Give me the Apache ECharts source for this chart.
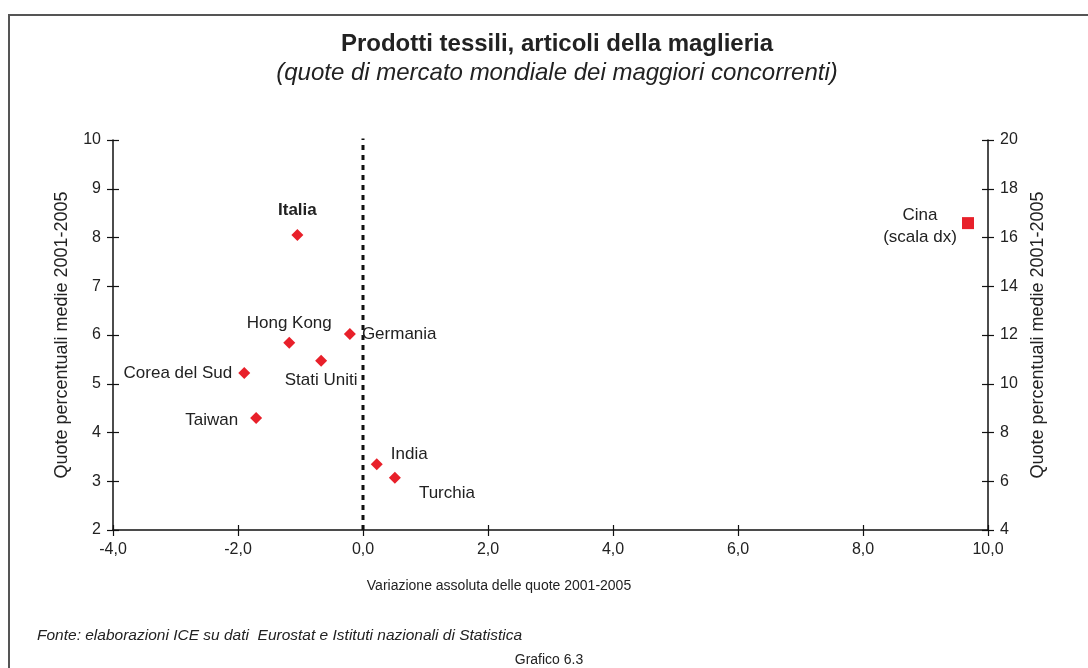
<!DOCTYPE html>
<html>
<head>
<meta charset="utf-8">
<script src="https://cdn.jsdelivr.net/npm/echarts@6/dist/echarts.min.js"></script>
<style>
html,body{margin:0;padding:0;background:#fff;}
#chart{width:1088px;height:668px;}
</style>
</head>
<body>
<div id="chart"></div>
<script>
// ---- data ----
const countries = ['Italia','Hong Kong','Germania','Stati Uniti','Corea del Sud','Taiwan','India','Turchia'];
const variazione = [-1.05,-1.18,-0.21,-0.67,-1.90,-1.71,0.22,0.51];
const quoteMedie = [8.05,5.84,6.02,5.47,5.22,4.30,3.35,3.07];
const cinaName = 'Cina\n(scala dx)';
const cinaVariazione = [9.68];
const cinaQuota = [16.59];
const xTicks = {min:-4, max:10, interval:2};
const yLeftTicks = {min:2, max:10, interval:1};
const yRightTicks = {min:4, max:20, interval:2};
const refLineX = 0;
const refLineTop = 10.14;

// ---- label placement (style) ----
const labelStyle = {
  'Italia': {position:'top', distance:10, fontWeight:'bold'},
  'Hong Kong': {position:'top', distance:5},
  'Germania': {position:'right', distance:6},
  'Stati Uniti': {position:'bottom', distance:5},
  'Corea del Sud': {position:'left', distance:6},
  'Taiwan': {position:'left', distance:12, offset:[0,2]},
  'India': {position:'right', distance:8, offset:[0,-10]},
  'Turchia': {position:'right', distance:8, offset:[10,15]}
};

const font = '"Liberation Sans", Arial, sans-serif';
const txt = '#222';
const fmtX = v => v.toFixed(1).replace('.', ',');
const ptFont = 17;

const mainData = countries.map((n,i) => ({
  name:n, value:[variazione[i], quoteMedie[i]],
  label:Object.assign({show:true, formatter:'{b}', color:txt, fontSize:ptFont, fontFamily:font}, labelStyle[n])
}));
const cinaData = cinaVariazione.map((v,i) => ({
  name:cinaName, value:[v, cinaQuota[i]],
  label:{show:true, formatter:'{b}', position:'left', distance:0, align:'center', offset:[-42,3], color:txt, fontSize:ptFont, fontFamily:font, lineHeight:22}
}));

const chart = echarts.init(document.getElementById('chart'), null, {renderer:'canvas'});
const axisLine = {show:true, onZero:false, lineStyle:{color:'#111', width:1.5}};
const tickOut = {show:true, length:6, inside:false, lineStyle:{color:'#111', width:1.2}};
const tickIn = {show:true, length:6, inside:true, lineStyle:{color:'#111', width:1.2}};
const labelBase = {color:txt, fontSize:16, fontFamily:font};
const nameStyle = {color:txt, fontSize:18, fontFamily:font};

chart.setOption({
  animation:false,
  backgroundColor:'#fff',
  grid:{left:113, right:100, top:140, bottom:138, containLabel:false},
  xAxis:[
    Object.assign({type:'value', position:'bottom', axisLine:axisLine, axisTick:tickOut,
      axisLabel:Object.assign({margin:12, formatter:fmtX}, labelBase), splitLine:{show:false}}, xTicks),
    Object.assign({type:'value', position:'bottom', axisLine:{show:false, onZero:false}, axisTick:Object.assign({}, tickIn, {length:5}),
      axisLabel:{show:false}, splitLine:{show:false}}, xTicks)
  ],
  yAxis:[
    Object.assign({type:'value', position:'left', axisLine:axisLine, axisTick:tickOut,
      axisLabel:Object.assign({margin:12}, labelBase), splitLine:{show:false},
      name:'Quote percentuali medie 2001-2005', nameLocation:'middle', nameGap:42,
      nameTextStyle:nameStyle}, yLeftTicks),
    Object.assign({type:'value', position:'right', axisLine:axisLine, axisTick:tickOut,
      axisLabel:Object.assign({margin:12}, labelBase), splitLine:{show:false},
      name:'Quote percentuali medie 2001-2005', nameLocation:'middle', nameGap:41, nameRotate:90,
      nameTextStyle:nameStyle}, yRightTicks),
    Object.assign({type:'value', position:'left', axisLine:{show:false, onZero:false}, axisTick:tickIn,
      axisLabel:{show:false}, splitLine:{show:false}}, yLeftTicks),
    Object.assign({type:'value', position:'right', axisLine:{show:false, onZero:false}, axisTick:tickIn,
      axisLabel:{show:false}, splitLine:{show:false}}, yRightTicks)
  ],
  series:[
    {type:'line', xAxisIndex:0, yAxisIndex:0, symbol:'none', silent:true, z:1,
      lineStyle:{color:'#111', type:[5,5], width:3},
      data:[[refLineX, yLeftTicks.min],[refLineX, refLineTop]]},
    {type:'scatter', xAxisIndex:0, yAxisIndex:0, symbol:'diamond', symbolSize:12, z:3,
      itemStyle:{color:'#e8202a', opacity:1}, data:mainData},
    {type:'scatter', xAxisIndex:0, yAxisIndex:1, symbol:'rect', symbolSize:12, z:3,
      itemStyle:{color:'#e8202a', opacity:1}, data:cinaData}
  ],
  graphic:[
    {type:'polyline', shape:{points:[[9,668],[9,15],[1088,15]]}, style:{stroke:'#555', lineWidth:2, fill:null}},
    {type:'text', x:557, y:44, style:{text:'Prodotti tessili, articoli della maglieria', fill:txt, font:'bold 24px '+font, textAlign:'center', textVerticalAlign:'middle'}},
    {type:'text', x:557, y:73, style:{text:'(quote di mercato mondiale dei maggiori concorrenti)', fill:txt, font:'italic 24px '+font, textAlign:'center', textVerticalAlign:'middle'}},
    {type:'text', x:499, y:586, style:{text:'Variazione assoluta delle quote 2001-2005', fill:txt, font:'14px '+font, textAlign:'center', textVerticalAlign:'middle'}},
    {type:'text', x:37, y:636, style:{text:'Fonte: elaborazioni ICE su dati  Eurostat e Istituti nazionali di Statistica', fill:txt, font:'italic 15.5px '+font, textAlign:'left', textVerticalAlign:'middle'}},
    {type:'text', x:549, y:660, style:{text:'Grafico 6.3', fill:txt, font:'14px '+font, textAlign:'center', textVerticalAlign:'middle'}}
  ]
});
</script>
</body>
</html>
